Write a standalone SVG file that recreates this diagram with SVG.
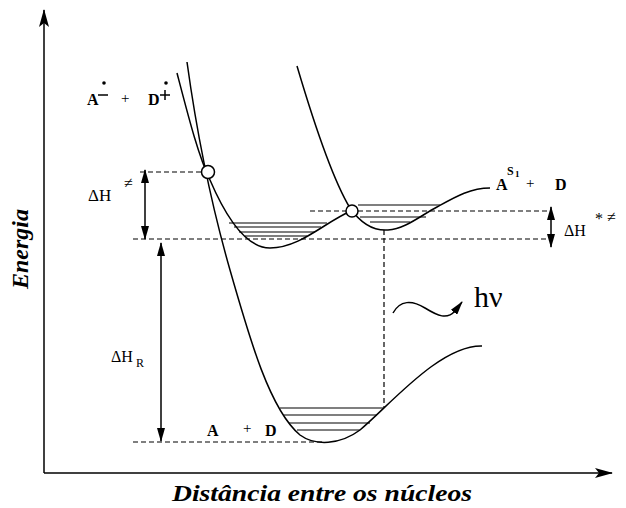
<svg xmlns="http://www.w3.org/2000/svg" width="626" height="508" viewBox="0 0 626 508">
<style>
.curve{fill:none;stroke:#000;stroke-width:1.5}
.dash{fill:none;stroke:#000;stroke-width:1.2;stroke-dasharray:5,3}
.lvl{fill:none;stroke:#000;stroke-width:1.2}
.arr{fill:none;stroke:#000;stroke-width:1.5}
text{font-family:'Liberation Serif','DejaVu Serif',serif;fill:#000}
.b{font-weight:bold}
</style>
<defs>
<marker id="ah" viewBox="0 0 14 8" refX="13" refY="4" markerWidth="14" markerHeight="8" markerUnits="userSpaceOnUse" orient="auto-start-reverse">
<path d="M0,0 L14,4 L0,8 Z" fill="#000"/>
</marker>
<marker id="axh" viewBox="0 0 18 10" refX="17" refY="5" markerWidth="18" markerHeight="10" markerUnits="userSpaceOnUse" orient="auto">
<path d="M0,0 L18,5 L0,10 L4,5 Z" fill="#000"/>
</marker>
</defs>
<g id="axes">
<line x1="44" y1="473" x2="44" y2="10" class="arr" marker-end="url(#axh)"/>
<line x1="44" y1="473" x2="612" y2="473" class="arr" marker-end="url(#axh)"/>
<text font-family="Liberation Serif, serif" class="b" font-style="italic" font-size="24" transform="translate(28,249) rotate(-90)" text-anchor="middle">Energia</text>
<text font-family="Liberation Serif, serif" class="b" font-style="italic" font-size="24" x="322" y="501" text-anchor="middle" textLength="300" lengthAdjust="spacingAndGlyphs">Distância entre os núcleos</text>
</g>
<g id="connectors">
<line x1="140" y1="172" x2="201" y2="172" class="dash"/>
<line x1="310" y1="211" x2="547" y2="211" class="dash"/>
<line x1="133" y1="239" x2="547" y2="239" class="dash"/>
<line x1="133" y1="442" x2="325" y2="442" class="dash"/>
<line x1="384" y1="230" x2="384" y2="407" class="dash"/>
<line x1="145" y1="170" x2="145" y2="239" class="arr" marker-start="url(#ah)" marker-end="url(#ah)"/>
<line x1="161" y1="243" x2="161" y2="441" class="arr" marker-start="url(#ah)" marker-end="url(#ah)"/>
<line x1="551" y1="207" x2="551" y2="247" class="arr" marker-start="url(#ah)" marker-end="url(#ah)"/>
<path d="M393,313 C 400,300 412,300 425,308 C 438,316 447,320 455,311 L462,302" class="arr" marker-end="url(#ah)"/>
</g>
<g id="ground-state">
<path class="curve" d="M187,62 C 195,120 210,200 230,270 C 250,340 270,410 300,435 C 315,446 340,445 360,430 C 390,405 440,345 482,346"/>
<line class="lvl" x1="280" y1="408" x2="384" y2="408"/>
<line class="lvl" x1="284" y1="415" x2="377" y2="415"/>
<line class="lvl" x1="289" y1="423" x2="370" y2="423"/>
<line class="lvl" x1="297" y1="430" x2="360" y2="430"/>
<text font-family="Liberation Serif, serif" class="b" font-size="16" x="207" y="436">A</text>
<text font-family="Liberation Serif, serif" font-size="15" x="243" y="433">+</text>
<text font-family="Liberation Serif, serif" class="b" font-size="16" x="265" y="436">D</text>
</g>
<g id="ion-pair-state">
<path class="curve" d="M177,73 C 188,115 198,155 210,180 C 225,215 245,248 270,248 C 300,248 325,222 351,211"/>
<line class="lvl" x1="229" y1="223" x2="327" y2="223"/>
<line class="lvl" x1="234" y1="227" x2="321" y2="227"/>
<line class="lvl" x1="239" y1="232" x2="315" y2="232"/>
<line class="lvl" x1="245" y1="236" x2="307" y2="236"/>
<text font-family="Liberation Serif, serif" class="b" font-size="16" x="87" y="105">A</text>
<line x1="98" y1="95" x2="108" y2="95" stroke="#000" stroke-width="1.5"/>
<circle cx="104" cy="83" r="1.8" fill="#000"/>
<text font-family="Liberation Serif, serif" font-size="15" x="121" y="103">+</text>
<text font-family="Liberation Serif, serif" class="b" font-size="16" x="148" y="105">D</text>
<line x1="160" y1="95" x2="170" y2="95" stroke="#000" stroke-width="1.5"/>
<line x1="165" y1="90" x2="165" y2="100" stroke="#000" stroke-width="1.5"/>
<circle cx="166" cy="83" r="1.8" fill="#000"/>
</g>
<g id="excited-state">
<path class="curve" d="M297,66 C 310,110 330,175 350,208 C 362,225 375,231 388,230 C 405,229 420,216 437,207 C 455,197 470,188 490,188"/>
<line class="lvl" x1="358" y1="205" x2="440" y2="205"/>
<line class="lvl" x1="360" y1="217" x2="426" y2="217"/>
<line class="lvl" x1="370" y1="222" x2="410" y2="222"/>
<text font-family="Liberation Serif, serif" class="b" font-size="16" x="496" y="190">A</text>
<text font-family="Liberation Serif, serif" class="b" font-size="12" x="507" y="175">S</text>
<text font-family="Liberation Serif, serif" class="b" font-size="9" x="515" y="177">1</text>
<text font-family="Liberation Serif, serif" font-size="15" x="526" y="188">+</text>
<text font-family="Liberation Serif, serif" class="b" font-size="16" x="555" y="190">D</text>
</g>
<g id="crossing-1">
<circle cx="208" cy="172" r="6.5" fill="#fff" stroke="#000" stroke-width="1.5"/>
</g>
<g id="crossing-2">
<circle cx="352" cy="211" r="6" fill="#fff" stroke="#000" stroke-width="1.5"/>
</g>
<g id="labels">
<text font-family="Liberation Serif, serif" font-size="17" x="88" y="201">ΔH</text>
<text font-family="Liberation Serif, serif" font-size="16" x="124" y="188">≠</text>
<text font-family="Liberation Serif, serif" font-size="16" x="111" y="362">ΔH</text>
<text font-family="Liberation Serif, serif" font-size="12" x="136" y="367">R</text>
<text font-family="Liberation Serif, serif" font-size="16" x="564" y="236">ΔH</text>
<text font-family="Liberation Serif, serif" font-size="16" x="595" y="224">*</text>
<text font-family="Liberation Serif, serif" font-size="16" x="607" y="222">≠</text>
<text font-family="Liberation Serif, serif" font-size="30" x="474" y="307">hν</text>
</g>
</svg>
